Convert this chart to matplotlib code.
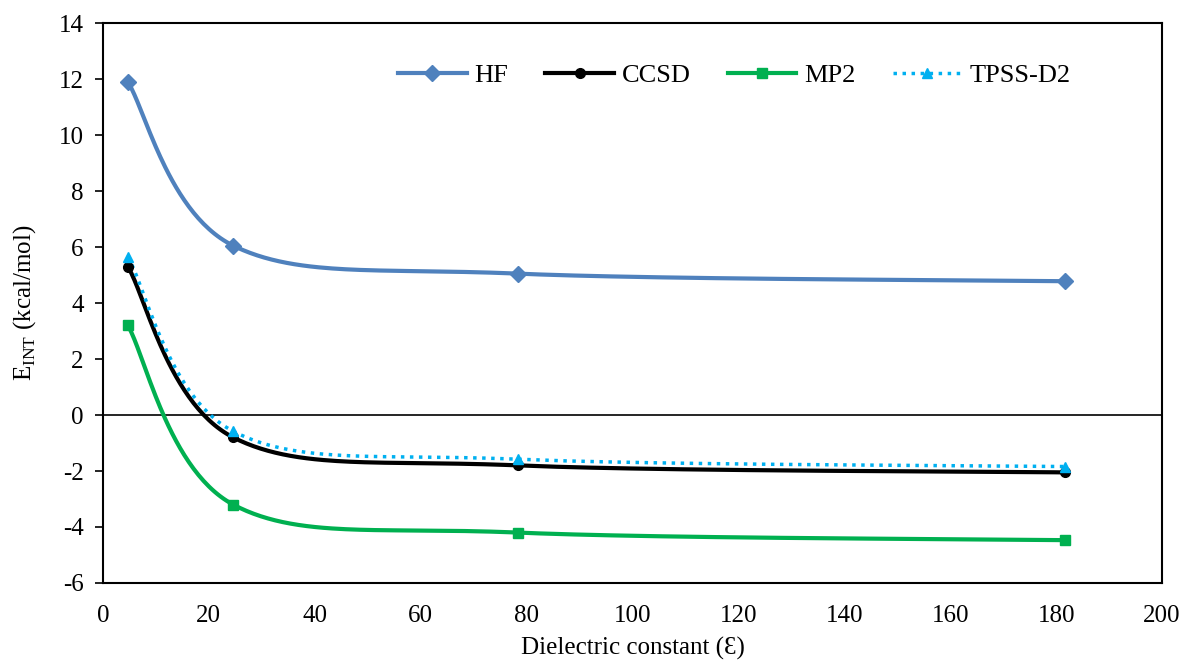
import numpy as np
import matplotlib
matplotlib.use('Agg')
import matplotlib.pyplot as plt

# ----------------------------------------------------------------------
# Data
# ----------------------------------------------------------------------
epsilon = [4.7, 24.6, 78.4, 181.6]          # dielectric constants
hf      = [11.9, 6.05, 5.05, 4.78]
ccsd    = [5.3, -0.8, -1.8, -2.05]
mp2     = [3.2, -3.2, -4.2, -4.47]
tpss    = [5.65, -0.58, -1.58, -1.84]

series_names = ['HF', 'CCSD', 'MP2', 'TPSS-D2']


def smooth(xs, ys, n=60):
    """Excel-like smoothed line: parametric Bezier with Catmull-Rom controls."""
    P = np.column_stack([xs, ys]).astype(float)
    pts = []
    for i in range(len(P) - 1):
        p0 = P[i - 1] if i > 0 else P[i]
        p1, p2 = P[i], P[i + 1]
        p3 = P[i + 2] if i + 2 < len(P) else P[i + 1]
        c1 = p1 + (p2 - p0) / 6
        c2 = p2 - (p3 - p1) / 6
        t = np.linspace(0, 1, n)[:, None]
        seg = ((1 - t) ** 3) * p1 + 3 * ((1 - t) ** 2) * t * c1 \
            + 3 * (1 - t) * t ** 2 * c2 + t ** 3 * p2
        pts.append(seg if i == 0 else seg[1:])
    pts = np.vstack(pts)
    return pts[:, 0], pts[:, 1]


plt.rcParams['font.family'] = ['Liberation Serif', 'DejaVu Serif']
plt.rcParams['mathtext.fontset'] = 'custom'
plt.rcParams['mathtext.rm'] = 'Liberation Serif'
plt.rcParams['axes.unicode_minus'] = False

fig = plt.figure(figsize=(11.86, 6.6), dpi=100)
ax = fig.add_axes([0.0868, 0.1167, 0.8930, 0.8483])

styles = [
    dict(color='#4F81BD', ls='-', lw=3, marker='D', ms=8),
    dict(color='black', ls='-', lw=3, marker='o', ms=7),
    dict(color='#00B050', ls='-', lw=3, marker='s', ms=7),
    dict(color='#00B0F0', ls=(0, (1, 1.6)), lw=2.5, marker='^', ms=7),
]

for ys, name, st in zip([hf, ccsd, mp2, tpss], series_names, styles):
    sx, sy = smooth(epsilon, ys)
    ax.plot(sx, sy, color=st['color'], ls=st['ls'], lw=st['lw'], zorder=3)
    ax.plot(epsilon, ys, ls='none', marker=st['marker'], ms=st['ms'],
            color=st['color'], zorder=4)
    # legend proxy
    ax.plot([], [], color=st['color'], ls=st['ls'], lw=st['lw'],
            marker=st['marker'], ms=st['ms'], label=name)

ax.axhline(0, color='black', lw=1.2, zorder=2)

ax.set_xlim(0, 200)
ax.set_ylim(-6, 14)
ax.set_xticks(np.arange(0, 201, 20))
ax.set_yticks(np.arange(-6, 15, 2))
ax.tick_params(axis='x', length=0, labelsize=18, pad=16)
ax.tick_params(axis='y', direction='out', length=6, width=1.2, labelsize=18,
               pad=8)
for sp in ax.spines.values():
    sp.set_linewidth(1.5)

ax.set_xlabel('Dielectric constant (Ɛ)', fontsize=18, labelpad=7)
ax.set_ylabel(r'E$_{\mathrm{INT}}$ (kcal/mol)', fontsize=18, labelpad=15)

ax.legend(loc='center', bbox_to_anchor=(0.596, 0.907), ncol=4, frameon=False,
          fontsize=19, handlelength=2.6, columnspacing=1.4, handletextpad=0.3)

fig.savefig('out.png', dpi=100)
